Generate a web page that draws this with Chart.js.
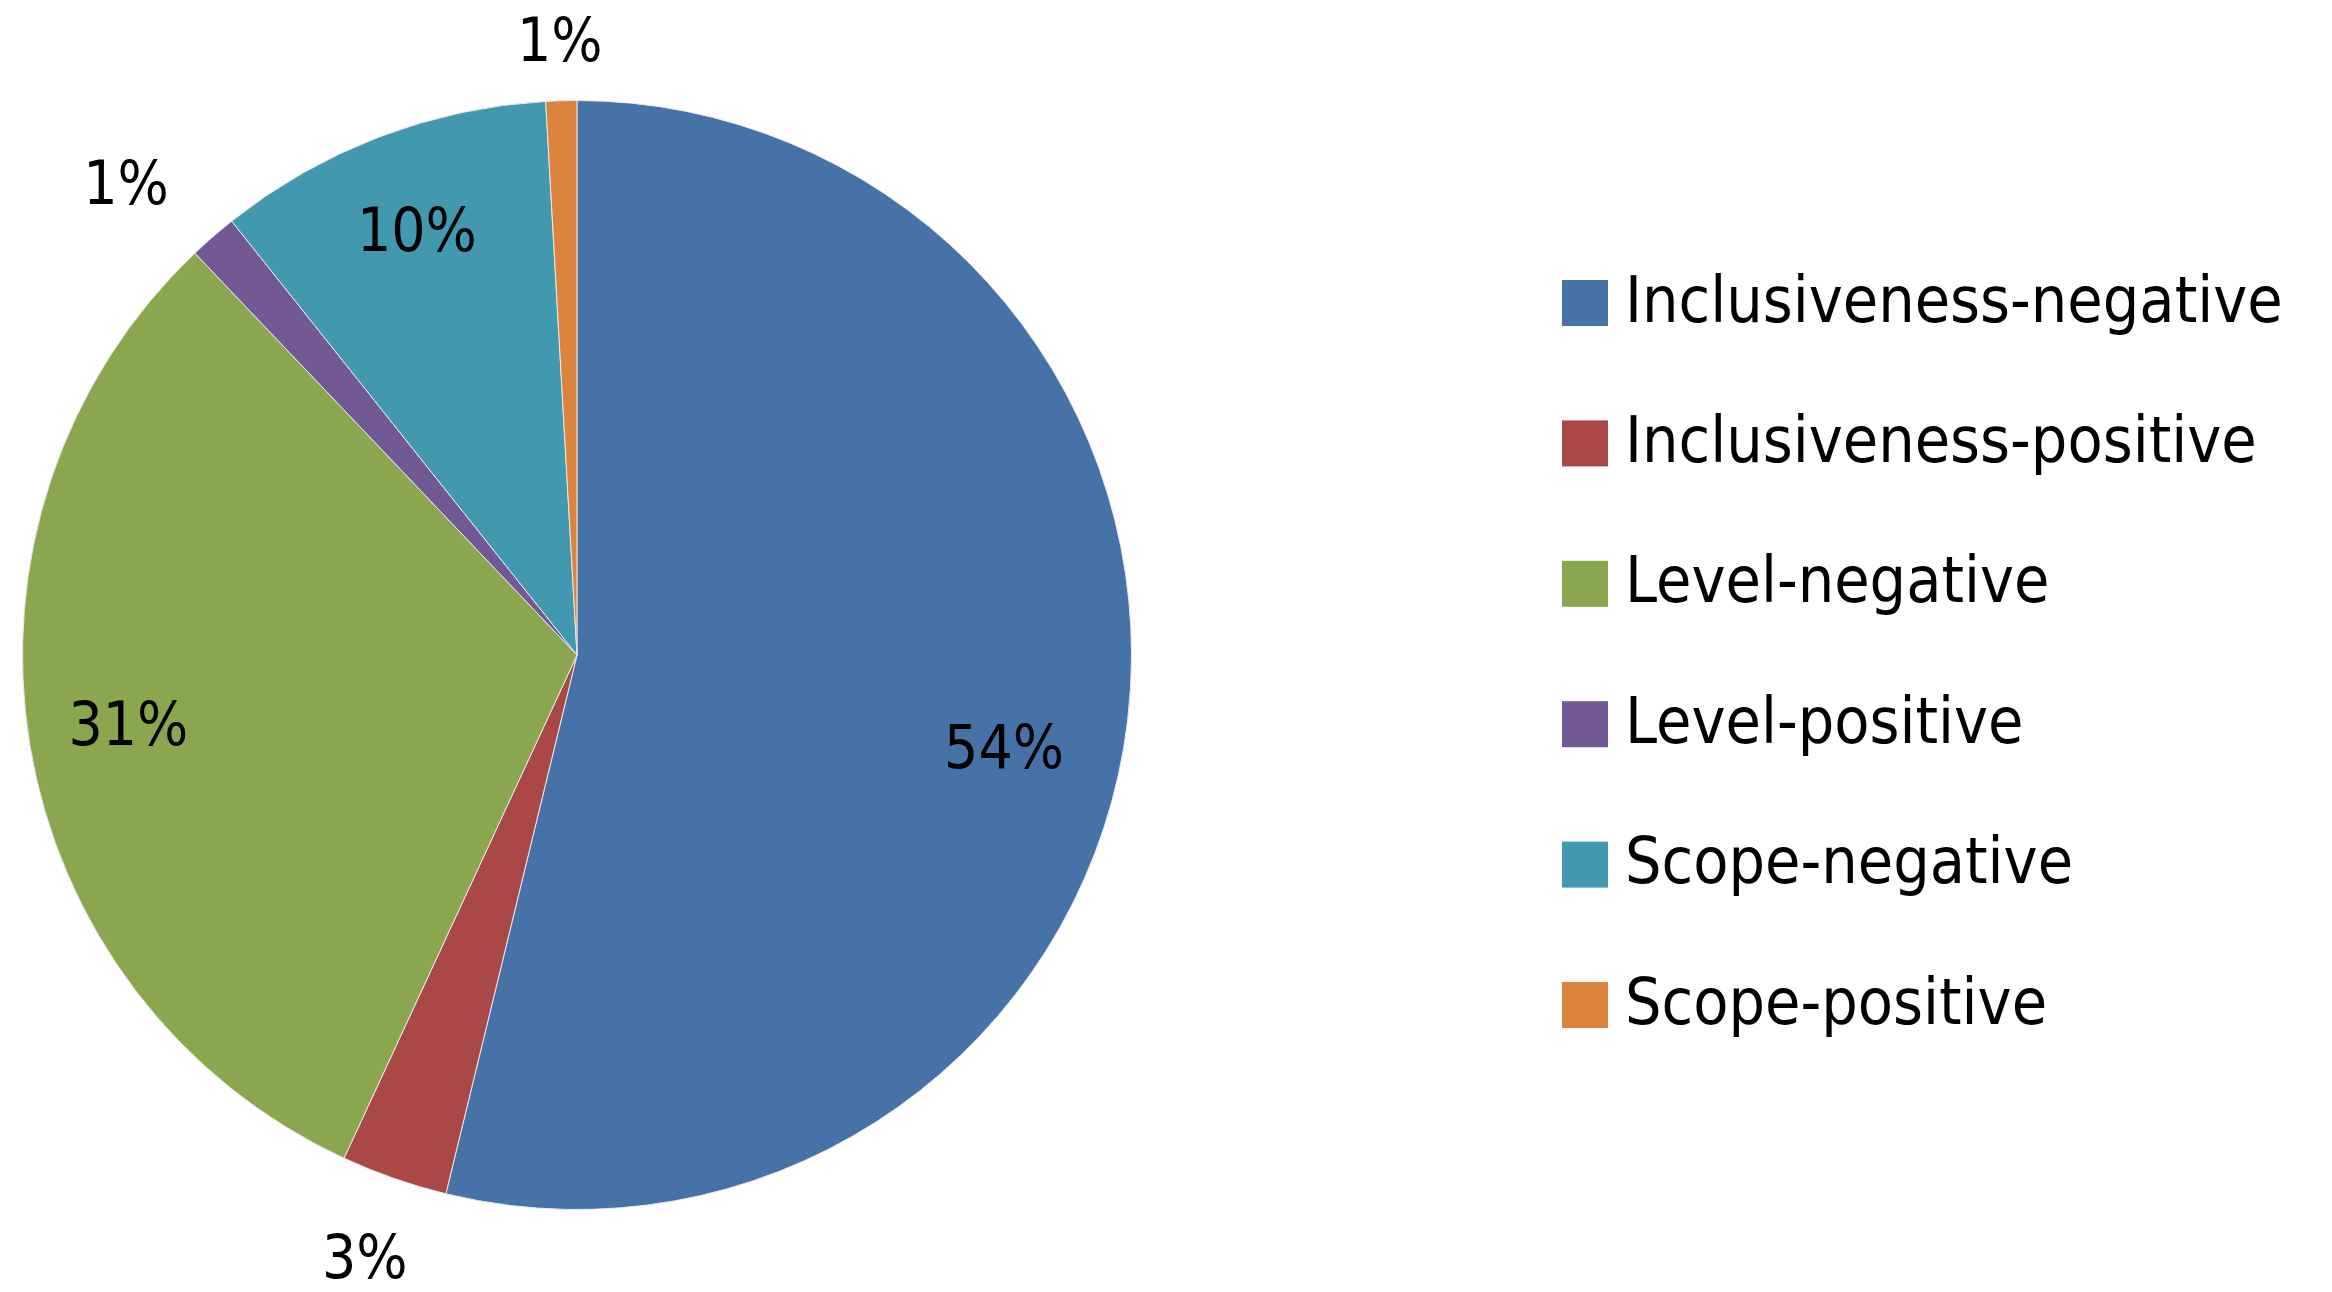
<!DOCTYPE html>
<html><head><meta charset="utf-8">
<script src="https://cdn.jsdelivr.net/npm/chart.js@4"></script>
<style>html,body{margin:0;padding:0;background:#fff}#w{width:2332px;height:1292px}</style>
</head><body><div id="w"><canvas id="c"></canvas></div>
<script>
const categories=["Inclusiveness-negative","Inclusiveness-positive","Level-negative","Level-positive","Scope-negative","Scope-positive"];
const values=[53.8,3.1,31.0,1.4,9.8,0.9];
const pctLabels=["54%","3%","31%","1%","10%","1%"];
const colors=["#4672A8","#A94846","#8AA64F","#725894","#4198AF","#DB843D"];
const labelRadius=[0.79,1.16,0.82,1.17,0.81,1.10];
const labelShiftDeg=[6,0,0,-3,0,0];
const FONT='"Liberation Sans Narrow","DejaVu Sans Condensed",sans-serif';
const plug={id:'lbl',afterDraw(ch){
 const c=ch.ctx;const meta=ch.getDatasetMeta(0);
 c.save();c.fillStyle='#000';c.font='60px '+FONT;c.textAlign='center';c.textBaseline='middle';
 meta.data.forEach((a,i)=>{const m=(a.startAngle+a.endAngle)/2+labelShiftDeg[i]*Math.PI/180;const r=a.outerRadius*labelRadius[i];
  c.fillText(pctLabels[i],a.x+Math.cos(m)*r,a.y+Math.sin(m)*r);});
 c.textAlign='left';c.font='64px '+FONT;
 categories.forEach((t,i)=>{const y=303+i*140.4;c.fillStyle=colors[i];c.fillRect(1562,y-23,46,46);
  c.fillStyle='#000';c.fillText(t,1625,y+2);});
 c.restore();}};
new Chart(document.getElementById('c'),{type:'pie',
 data:{labels:categories,datasets:[{data:values,backgroundColor:colors,borderColor:'#e8e8e8',borderWidth:1}]},
 options:{responsive:true,maintainAspectRatio:false,animation:false,
  layout:{padding:{left:22,right:1200,top:100,bottom:82}},
  plugins:{legend:{display:false},tooltip:{enabled:false}}},
 plugins:[plug]});
</script></body></html>
